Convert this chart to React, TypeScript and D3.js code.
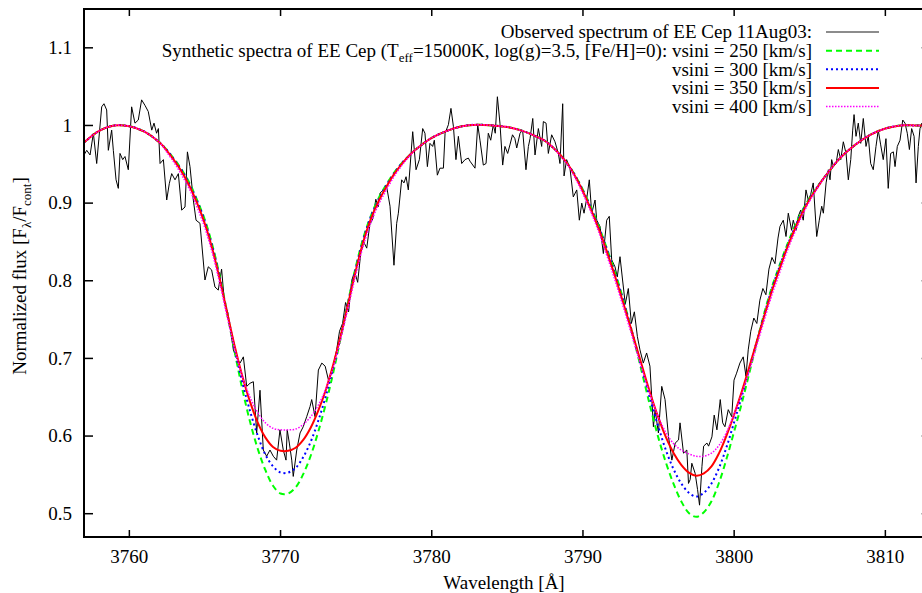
import React from 'react';
import * as d3 from 'd3';

// Synthetic spectra wavelength grid (Å)
const synthWave = [3757,3758,3759,3760,3761,3762,
3762.5,3763,3763.5,3764,3764.5,3765,3765.5,3766,3766.5,3767,3767.5,3768,3768.5,3769,3769.5,3770,3770.5,3771,3771.5,3772,3772.5,3773,3773.5,3774,3774.5,3775,3775.5,3776,3776.5,3777,3777.5,3778,3778.5,
3779,3780,3781,3782,3783,3784,3785,3786,3787,
3787.5,3788,3788.5,3789,3789.5,3790,3790.5,3791,3791.5,3792,3792.5,3793,3793.5,3794,3794.5,3795,3795.5,3796,3796.5,3797,3797.5,3798,3798.5,3799,3799.5,3800,3800.5,3801,3801.5,3802,3802.5,3803,3803.5,3804,3804.5,3805,3805.5,3806,
3807,3808,3809,3810,3811,3812,3813];

const vsini250 = [0.978,0.993,1.000,0.999,0.992,0.978,
0.968,0.956,0.942,0.925,0.903,0.878,0.845,0.804,0.755,0.705,0.658,0.617,0.583,0.556,0.536,0.526,0.526,0.534,0.551,0.575,0.606,0.642,0.683,0.729,0.776,0.820,0.857,0.885,0.907,0.924,0.939,0.951,0.961,
0.970,0.984,0.993,0.999,1.001,1.000,0.998,0.993,0.985,
0.980,0.972,0.962,0.950,0.935,0.917,0.896,0.873,0.846,0.818,0.787,0.752,0.714,0.674,0.634,0.597,0.565,0.538,0.516,0.501,0.496,0.502,0.516,0.540,0.571,0.606,0.642,0.681,0.721,0.759,0.792,0.820,0.846,0.870,0.890,0.907,0.921,0.934,
0.958,0.975,0.988,0.996,1.000,1.000,1.000];

const vsini300 = [0.978,0.993,1.000,0.999,0.992,0.978,
0.968,0.955,0.941,0.923,0.902,0.876,0.843,0.802,0.756,0.709,0.667,0.631,0.600,0.576,0.561,0.553,0.553,0.559,0.573,0.593,0.620,0.652,0.689,0.730,0.775,0.818,0.855,0.884,0.905,0.923,0.938,0.951,0.961,
0.970,0.984,0.993,0.999,1.001,1.000,0.998,0.993,0.985,
0.980,0.972,0.962,0.950,0.935,0.916,0.895,0.871,0.845,0.816,0.785,0.752,0.716,0.680,0.644,0.611,0.581,0.557,0.539,0.527,0.522,0.527,0.539,0.559,0.586,0.618,0.651,0.687,0.722,0.757,0.790,0.818,0.844,0.868,0.889,0.906,0.921,0.934,
0.958,0.975,0.988,0.996,1.000,1.000,1.000];

const vsini350 = [0.978,0.993,1.000,0.999,0.992,0.978,
0.967,0.954,0.939,0.921,0.899,0.873,0.840,0.800,0.756,0.713,0.675,0.643,0.617,0.598,0.586,0.581,0.581,0.585,0.595,0.611,0.633,0.660,0.693,0.731,0.773,0.815,0.852,0.881,0.903,0.921,0.937,0.950,0.961,
0.970,0.984,0.993,0.999,1.001,1.000,0.998,0.993,0.985,
0.980,0.972,0.962,0.950,0.934,0.915,0.893,0.869,0.842,0.813,0.782,0.750,0.717,0.684,0.652,0.623,0.598,0.578,0.563,0.553,0.549,0.552,0.561,0.578,0.601,0.628,0.657,0.689,0.722,0.755,0.787,0.815,0.842,0.866,0.887,0.905,0.920,0.934,
0.958,0.975,0.988,0.996,1.000,1.000,1.000];

const vsini400 = [0.978,0.993,1.000,0.999,0.992,0.978,
0.965,0.951,0.935,0.917,0.894,0.868,0.835,0.795,0.751,0.710,0.675,0.649,0.630,0.617,0.610,0.608,0.608,0.609,0.615,0.625,0.640,0.661,0.690,0.727,0.768,0.810,0.847,0.876,0.899,0.917,0.934,0.948,0.960,
0.970,0.984,0.993,0.999,1.001,1.000,0.998,0.993,0.985,
0.980,0.972,0.961,0.949,0.932,0.912,0.890,0.865,0.837,0.808,0.777,0.745,0.712,0.680,0.650,0.624,0.604,0.590,0.582,0.577,0.574,0.574,0.578,0.588,0.605,0.628,0.654,0.684,0.717,0.750,0.782,0.810,0.838,0.862,0.884,0.903,0.919,0.934,
0.958,0.975,0.988,0.996,1.000,1.000,1.000];

// Observed spectrum
const obsWave = [3757.00,3757.18,3757.40,3757.62,3757.84,3758.17,3758.32,3758.50,3758.61,3758.83,3758.94,3759.12,3759.27,3759.38,3759.56,3759.71,3759.93,3760.15,3760.37,3760.59,3760.81,3761.03,3761.25,3761.48,3761.63,3761.80,3761.92,3762.03,3762.25,3762.47,3762.64,3762.80,3763.02,3763.24,3763.46,3763.68,3763.84,3764.01,3764.23,3764.41,3764.67,3765.00,3765.22,3765.44,3765.66,3765.88,3766.10,3766.30,3766.50,3766.70,3766.88,3767.10,3767.32,3767.54,3767.76,3767.98,3768.20,3768.42,3768.64,3768.86,3769.08,3769.30,3769.52,3769.74,3769.96,3770.18,3770.36,3770.44,3770.58,3770.74,3770.84,3771.07,3771.29,3771.50,3771.73,3771.95,3772.06,3772.28,3772.50,3772.73,3772.95,3773.17,3773.38,3773.71,3773.90,3774.10,3774.30,3774.50,3774.70,3774.90,3775.10,3775.30,3775.50,3775.70,3775.90,3776.10,3776.30,3776.45,3776.58,3776.80,3777.02,3777.24,3777.50,3777.68,3777.79,3778.01,3778.16,3778.30,3778.45,3778.74,3778.96,3779.18,3779.40,3779.55,3779.71,3779.88,3780.06,3780.17,3780.37,3780.54,3780.77,3780.88,3781.10,3781.27,3781.43,3781.60,3781.76,3781.98,3782.20,3782.42,3782.53,3782.86,3783.04,3783.19,3783.41,3783.59,3783.74,3783.90,3784.07,3784.20,3784.34,3784.51,3784.69,3784.84,3785.02,3785.17,3785.34,3785.50,3785.62,3785.84,3786.01,3786.23,3786.39,3786.50,3786.68,3786.83,3787.05,3787.27,3787.38,3787.56,3787.71,3787.93,3788.15,3788.37,3788.48,3788.66,3788.75,3788.92,3789.14,3789.36,3789.59,3789.76,3789.92,3790.07,3790.25,3790.42,3790.58,3790.80,3790.91,3791.13,3791.35,3791.57,3791.74,3791.90,3792.12,3792.27,3792.45,3792.62,3792.80,3793.00,3793.20,3793.40,3793.60,3793.77,3793.99,3794.21,3794.43,3794.66,3794.77,3794.99,3795.21,3795.43,3795.66,3795.88,3796.10,3796.32,3796.42,3796.65,3796.87,3796.98,3797.09,3797.20,3797.42,3797.58,3797.71,3797.87,3797.98,3798.20,3798.31,3798.53,3798.68,3798.86,3799.08,3799.24,3799.39,3799.61,3799.84,3799.99,3800.16,3800.38,3800.60,3800.78,3800.93,3801.10,3801.30,3801.50,3801.70,3801.90,3802.10,3802.30,3802.50,3802.70,3802.90,3803.03,3803.25,3803.43,3803.58,3803.80,3803.91,3804.09,3804.24,3804.40,3804.57,3804.75,3804.90,3805.06,3805.23,3805.46,3805.63,3805.79,3805.90,3806.08,3806.23,3806.34,3806.45,3806.56,3806.74,3806.89,3807.05,3807.22,3807.40,3807.55,3807.71,3807.84,3807.93,3808.06,3808.21,3808.37,3808.54,3808.72,3808.87,3809.03,3809.20,3809.38,3809.53,3809.69,3809.86,3810.04,3810.19,3810.35,3810.53,3810.64,3810.79,3810.97,3811.15,3811.30,3811.45,3811.59,3811.74,3811.90,3812.03,3812.18,3812.29,3812.42,3812.60,3812.80,3813.00];

const obsFlux = [0.962,0.968,0.962,0.990,0.951,1.024,1.028,1.020,0.968,0.994,0.968,0.930,0.919,0.964,0.956,0.960,0.943,1.024,1.003,1.007,1.033,1.026,1.018,0.994,1.003,0.990,0.996,0.951,0.956,0.904,0.925,0.938,0.930,0.938,0.891,0.895,0.966,0.947,0.904,0.878,0.874,0.801,0.818,0.814,0.792,0.788,0.815,0.770,0.760,0.735,0.711,0.700,0.694,0.702,0.664,0.668,0.670,0.604,0.659,0.582,0.574,0.582,0.574,0.569,0.608,0.582,0.569,0.608,0.591,0.569,0.548,0.582,0.604,0.612,0.625,0.638,0.647,0.625,0.685,0.694,0.690,0.672,0.681,0.711,0.735,0.745,0.772,0.760,0.800,0.812,0.798,0.835,0.850,0.842,0.872,0.880,0.905,0.895,0.913,0.917,0.921,0.896,0.820,0.874,0.887,0.930,0.926,0.934,0.917,0.992,0.943,0.956,0.996,0.990,0.947,0.977,0.973,0.981,0.936,0.945,0.945,0.990,1.001,1.022,0.999,0.956,0.986,0.951,0.956,0.958,0.954,0.945,1.001,0.981,0.949,0.951,0.990,0.981,1.001,0.990,1.037,1.003,0.949,0.973,0.964,0.975,0.988,0.983,0.971,0.990,0.994,0.943,0.973,0.983,1.009,0.962,0.996,0.973,1.005,1.003,0.964,0.988,0.979,0.964,0.951,1.028,0.935,0.956,0.945,0.908,0.917,0.878,0.900,0.887,0.906,0.930,0.887,0.904,0.878,0.870,0.835,0.878,0.883,0.827,0.818,0.805,0.831,0.801,0.770,0.790,0.745,0.760,0.728,0.711,0.694,0.707,0.690,0.612,0.634,0.604,0.664,0.647,0.599,0.569,0.591,0.595,0.617,0.578,0.582,0.539,0.544,0.565,0.552,0.531,0.511,0.561,0.587,0.591,0.587,0.599,0.627,0.608,0.647,0.617,0.612,0.634,0.625,0.672,0.681,0.694,0.702,0.677,0.711,0.735,0.752,0.745,0.775,0.790,0.782,0.815,0.830,0.822,0.855,0.870,0.878,0.857,0.887,0.865,0.878,0.865,0.883,0.891,0.878,0.917,0.904,0.911,0.926,0.857,0.878,0.896,0.887,0.926,0.943,0.930,0.956,0.947,0.951,0.969,0.956,0.979,0.964,0.930,0.956,0.994,1.014,0.986,1.003,0.977,1.009,0.973,0.986,0.951,0.943,0.973,0.994,0.975,0.956,0.983,0.919,0.964,0.966,0.947,0.973,0.981,1.007,1.003,0.990,0.969,0.996,0.986,0.926,0.973,0.996,1.003,0.960,0.935,0.950];

const xTicks = [3760, 3770, 3780, 3790, 3800, 3810];
const yTicks = [0.5, 0.6, 0.7, 0.8, 0.9, 1.0, 1.1];
const yTickLabels = ['0.5', '0.6', '0.7', '0.8', '0.9', '1', '1.1'];
const vsiniLabels = ['vsini = 250 [km/s]', 'vsini = 300 [km/s]', 'vsini = 350 [km/s]', 'vsini = 400 [km/s]'];
const obsLabel = 'Observed spectrum of EE Cep 11Aug03:';

const FONT = "'Liberation Serif', 'Times New Roman', Times, serif";
const FS = 19;
const SUB = 13;

export default function App() {
  const W = 922, H = 593;
  const L = 84, T = 9, B = 537;
  const x = d3.scaleLinear().domain([3757, 3813]).range([L, L + 56 * 15.12]);
  const y = d3.scaleLinear().domain([0.47, 1.15]).range([B, T]);
  const R = x(3813);

  const obsLine = d3.line<number>().x((_, i) => x(obsWave[i])).y((d) => y(d));
  const synLine = d3.line<number>().x((_, i) => x(synthWave[i])).y((d) => y(d)).curve(d3.curveCatmullRom.alpha(0.5));

  const series = [
    { data: vsini250, color: '#00ff00', width: 2, dash: '6,4' },
    { data: vsini300, color: '#0000ff', width: 2, dash: '2,3' },
    { data: vsini350, color: '#ff0000', width: 2, dash: undefined as string | undefined },
    { data: vsini400, color: '#ff00ff', width: 1.5, dash: '1.5,1.5' },
  ];

  const rowY = [32, 50.7, 69.3, 88, 106.6];
  const textX = 812;
  const lx0 = 826, lx1 = 879;

  return (
    <svg width={W} height={H} style={{ position: 'absolute', left: 0, top: 0, display: 'block', background: '#fff' }} fontFamily={FONT}>
      <defs>
        <clipPath id="plotclip">
          <rect x={L} y={T} width={R - L} height={B - T} />
        </clipPath>
      </defs>
      <rect x={0} y={0} width={W} height={H} fill="#fff" />
      <g clipPath="url(#plotclip)">
        <path d={obsLine(obsFlux) || ''} fill="none" stroke="#000" strokeWidth={1} strokeLinejoin="round" />
        {series.map((s, i) => (
          <path key={i} d={synLine(s.data) || ''} fill="none" stroke={s.color} strokeWidth={s.width} strokeDasharray={s.dash} />
        ))}
      </g>
      {yTicks.map((t, i) => (
        <g key={'y' + i}>
          <line x1={L} x2={L + 9} y1={y(t)} y2={y(t)} stroke="#000" strokeWidth={1.5} />
          <line x1={R} x2={R - 9} y1={y(t)} y2={y(t)} stroke="#000" strokeWidth={1.5} />
          <text x={72} y={y(t)} dy="0.33em" textAnchor="end" fontSize={FS}>{yTickLabels[i]}</text>
        </g>
      ))}
      {xTicks.map((t, i) => (
        <g key={'x' + i}>
          <line x1={x(t)} x2={x(t)} y1={B} y2={B - 7} stroke="#000" strokeWidth={1.5} />
          <line x1={x(t)} x2={x(t)} y1={T} y2={T + 7} stroke="#000" strokeWidth={1.5} />
          <text x={x(t)} y={563} textAnchor="middle" fontSize={FS}>{t}</text>
        </g>
      ))}
      <rect x={L} y={T} width={R - L} height={B - T} fill="none" stroke="#000" strokeWidth={2} />
      <text x={504} y={589} textAnchor="middle" fontSize={FS}>Wavelength [Å]</text>
      <text transform={`translate(26,276) rotate(-90)`} textAnchor="middle" fontSize={FS}>
        Normalized flux [F<tspan dy="5" fontSize={SUB}>λ</tspan><tspan dy="-5">/F</tspan><tspan dy="5" fontSize={SUB}>cont</tspan><tspan dy="-5">]</tspan>
      </text>
      <text x={textX} y={rowY[0]} dy="0.33em" textAnchor="end" fontSize={FS}>{obsLabel}</text>
      <line x1={lx0} x2={lx1} y1={rowY[0]} y2={rowY[0]} stroke="#666" strokeWidth={1.5} />
      <text x={textX} y={rowY[1]} dy="0.33em" textAnchor="end" fontSize={FS}>
        Synthetic spectra of EE Cep (T<tspan dy="5" fontSize={SUB}>eff</tspan><tspan dy="-5">=15000K, log(g)=3.5, [Fe/H]=0): {vsiniLabels[0]}</tspan>
      </text>
      {vsiniLabels.slice(1).map((lab, i) => (
        <text key={'lt' + i} x={textX} y={rowY[i + 2]} dy="0.33em" textAnchor="end" fontSize={FS}>{lab}</text>
      ))}
      {series.map((s, i) => (
        <line key={'ll' + i} x1={lx0} x2={lx1} y1={rowY[i + 1]} y2={rowY[i + 1]} stroke={s.color} strokeWidth={s.width} strokeDasharray={s.dash} />
      ))}
    </svg>
  );
}
